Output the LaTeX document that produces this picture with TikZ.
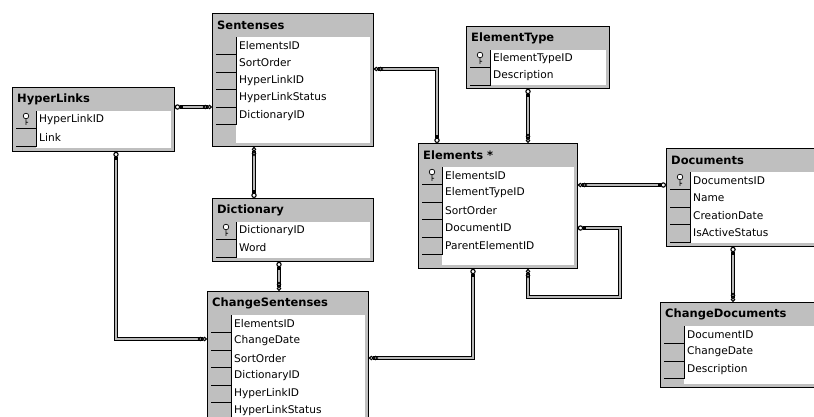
\documentclass[tikz,border=0pt]{standalone}
\usepackage{fontspec}
\setmainfont{DejaVu Sans}
\usetikzlibrary{arrows.meta,calc}

\tikzset{
    tablebox/.style={draw=black, line width=0.8pt, fill=black!25, inner sep=0pt, anchor=north west},
    keycell/.style={draw=black, line width=0.6pt},
    keyglyph/.style={draw=black, line width=0.7pt, fill=white},
    tabletitle/.style={font=\fontsize{11.5}{12}\selectfont\bfseries, anchor=west, inner sep=0pt},
    fieldname/.style={font=\fontsize{10.6}{11}\selectfont, anchor=west, inner sep=0pt},
    relline/.style={draw=black, line width=0.6pt, double=black!28, double distance=2.6pt},
    manyend/.tip={Circle[open,length=5pt,width=4.4pt,line width=1.1pt,sep=-0.8pt]Circle[open,length=5pt,width=4.4pt,line width=1.1pt]},
    keyend/.tip={Rectangle[length=3pt,width=2.6pt,sep=-0.4pt]Circle[open,length=5.4pt,width=5.4pt,line width=1.1pt]}
}

% ONE TABLE: name, x, y, width, height, title, fields (haskey/field)
\newcommand{\dbtable}[7]{%
    \node[tablebox, minimum width=#4pt, minimum height=#5pt] (#1) at (#2,#3) {};
    \fill[white] ($(#1.north west)+(24,24)$) rectangle ($(#1.south east)+(-4,-4)$);
    \node[tabletitle] (#1-title) at ($(#1.north west)+(5,12.5)$) {#6};
    \foreach \haskey/\field [count=\i] in {#7} {
        \draw[keycell] ($(#1.north west)+(4,24+17.5*\i)$) -- ++(20,0) -- ++(0,-17.5);
        \node[fieldname] (#1-\i) at ($(#1.north west)+(27,15+17.5*\i)$) {\field};
        \ifnum\haskey=1
            \draw[keyglyph] ($(#1.north west)+(14,11.5+17.5*\i)$) circle (2.8pt) ++(0,2.8) -- ++(0,6) ++(0,-2.5) -- ++(2,0);
        \fi
    }%
}

\begin{document}
\begin{tikzpicture}[x=1pt, y=-1pt]

    \useasboundingbox (0,0) rectangle (814,416);
    \clip (0,0) rectangle (814,416);

    % DRAW TABLES
    \dbtable{hyperlinks}{12}{87}{162}{64}{HyperLinks}{1/HyperLinkID, 0/Link}
    \dbtable{sentenses}{212}{13}{161}{133}{Sentenses}{0/ElementsID, 0/SortOrder, 0/HyperLinkID, 0/HyperLinkStatus, 0/DictionaryID}
    \dbtable{elementtype}{466}{26}{143}{62}{ElementType}{1/ElementTypeID, 0/Description}
    \dbtable{elements}{418}{143}{159}{125}{Elements *}{1/ElementsID, 0/ElementTypeID, 0/SortOrder, 0/DocumentID, 0/ParentElementID}
    \dbtable{documents}{666}{148}{170}{98}{Documents}{1/DocumentsID, 0/Name, 0/CreationDate, 0/IsActiveStatus}
    \dbtable{dictionary}{212}{198}{161}{63}{Dictionary}{1/DictionaryID, 0/Word}
    \dbtable{changesent}{207}{291}{161}{140}{ChangeSentenses}{0/ElementsID, 0/ChangeDate, 0/SortOrder, 0/DictionaryID, 0/HyperLinkID, 0/HyperLinkStatus}
    \dbtable{changedocs}{660}{302}{170}{85}{ChangeDocuments}{0/DocumentID, 0/ChangeDate, 0/Description}

    % DRAW RELATIONS
    \coordinate (selfturn) at (620,297);
    \draw[relline, keyend-manyend] (hyperlinks.east |- 0,107) -- (sentenses.west |- 0,107);
    \draw[relline, manyend-keyend] (sentenses.south -| 254,0) -- (dictionary.north -| 254,0);
    \draw[relline, manyend-keyend] (sentenses.east |- 0,69) -| (elements.north -| 437,0);
    \draw[relline, keyend-manyend] (elementtype.south -| 528,0) -- (elements.north -| 528,0);
    \draw[relline, keyend-manyend] (hyperlinks.south -| 116,0) |- (changesent.west |- 0,339);
    \draw[relline, keyend-manyend] (dictionary.south -| 279,0) -- (changesent.north -| 279,0);
    \draw[relline, keyend-manyend] (elements.south -| 473,0) |- (changesent.east |- 0,358);
    \draw[relline, manyend-keyend] (elements.east |- 0,185) -- (documents.west |- 0,185);
    \draw[relline, keyend-manyend] (elements.east |- 0,228) -| (selfturn) -| (elements.south -| 528,0);
    \draw[relline, keyend-manyend] (documents.south -| 733,0) -- (changedocs.north -| 733,0);

\end{tikzpicture}
\end{document}
